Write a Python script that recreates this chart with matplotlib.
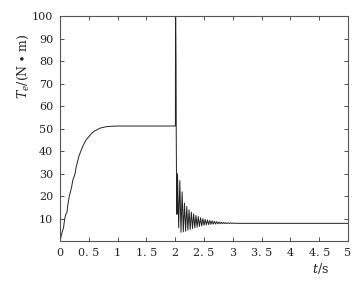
import numpy as np
import matplotlib
matplotlib.use('Agg')
import matplotlib.pyplot as plt

# start-up: torque rises to ~51 N.m
t_rise = [0.00, 0.02, 0.04, 0.06, 0.08, 0.10, 0.12, 0.14, 0.16, 0.18, 0.20,
          0.22, 0.24, 0.26, 0.28, 0.30, 0.33, 0.36, 0.40, 0.45, 0.50, 0.55,
          0.60, 0.70, 0.80, 0.90, 1.00, 2.00]
T_rise = [0.0, 2.5, 4.5, 6.0, 10.0, 12.0, 13.0, 17.0, 20.0, 22.0, 24.0,
          27.0, 28.5, 30.0, 33.0, 35.0, 38.0, 40.0, 42.5, 45.0, 46.5, 48.0,
          49.0, 50.3, 50.9, 51.1, 51.2, 51.2]

# load change at t=2 s: spike
t_spike = [2.003, 2.006, 2.010, 2.014, 2.018, 2.024, 2.030]
T_spike = [51.2, 140.0, 95.0, 80.0, 45.0, 20.0, 12.0]

# decaying oscillation (peak / trough pairs)
t_osc = [2.04, 2.06, 2.08, 2.10, 2.12, 2.14, 2.16, 2.18, 2.20, 2.22,
         2.24, 2.26, 2.28, 2.30, 2.32, 2.34, 2.36, 2.38, 2.40, 2.42,
         2.44, 2.46, 2.48, 2.50, 2.52, 2.54, 2.56, 2.58, 2.60, 2.62,
         2.64, 2.66, 2.68, 2.70, 2.72, 2.74, 2.76, 2.78, 2.80, 2.82,
         2.84, 2.86, 2.88, 2.90, 2.92, 2.94, 2.96, 2.98, 3.00, 3.02,
         3.04, 3.06, 3.08, 3.10]
T_osc = [30.0, 6.0, 27.0, 4.0, 22.0, 4.2, 17.0, 4.5, 15.5, 4.9,
         14.0, 5.3, 13.0, 5.7, 12.2, 6.0, 11.5, 6.3, 11.0, 6.6,
         10.5, 6.9, 10.1, 7.1, 9.8, 7.3, 9.5, 7.45, 9.3, 7.55,
         9.1, 7.65, 8.9, 7.72, 8.75, 7.78, 8.6, 7.83, 8.5, 7.87,
         8.4, 7.9, 8.3, 7.92, 8.25, 7.94, 8.2, 7.96, 8.15, 7.97,
         8.1, 7.98, 8.05, 7.99]

t_tail = [3.2, 5.0]
T_tail = [8.0, 8.0]

t = t_rise + t_spike + t_osc + t_tail
Te = T_rise + T_spike + T_osc + T_tail

xticks = [0, 0.5, 1, 1.5, 2, 2.5, 3, 3.5, 4, 4.5, 5]
xlabels = ['0', '0. 5', '1', '1. 5', '2', '2. 5', '3', '3. 5', '4', '4. 5', '5']
yticks = [10, 20, 30, 40, 50, 60, 70, 80, 90, 100]

plt.rcParams['font.family'] = ['DejaVu Serif']
plt.rcParams['mathtext.fontset'] = 'dejavuserif'

fig = plt.figure(figsize=(3.64, 2.87), dpi=100)
ax = fig.add_axes([0.165, 0.159, 0.791, 0.785])
ax.plot(t, Te, c='#222222', lw=0.7)
ax.set_xlim(0, 5)
ax.set_ylim(0, 100)
ax.set_xticks(xticks)
ax.set_xticklabels(xlabels)
ax.set_yticks(yticks)
ax.tick_params(direction='in', top=True, right=True, length=3, width=0.6,
               labelsize=8, colors='#333333', labelcolor='#222222', pad=5)
for s in ax.spines.values():
    s.set_color('#555555')
    s.set_linewidth(0.8)

fig.text(0.065, 0.77, r'$T_e$/(N $\bullet$ m)', rotation=90, ha='center',
         va='center', fontsize=9, color='#222222')
fig.text(0.88, 0.065, r'$t$/s', ha='center', va='center', fontsize=9,
         color='#222222')

fig.savefig('out.png', dpi=100)
